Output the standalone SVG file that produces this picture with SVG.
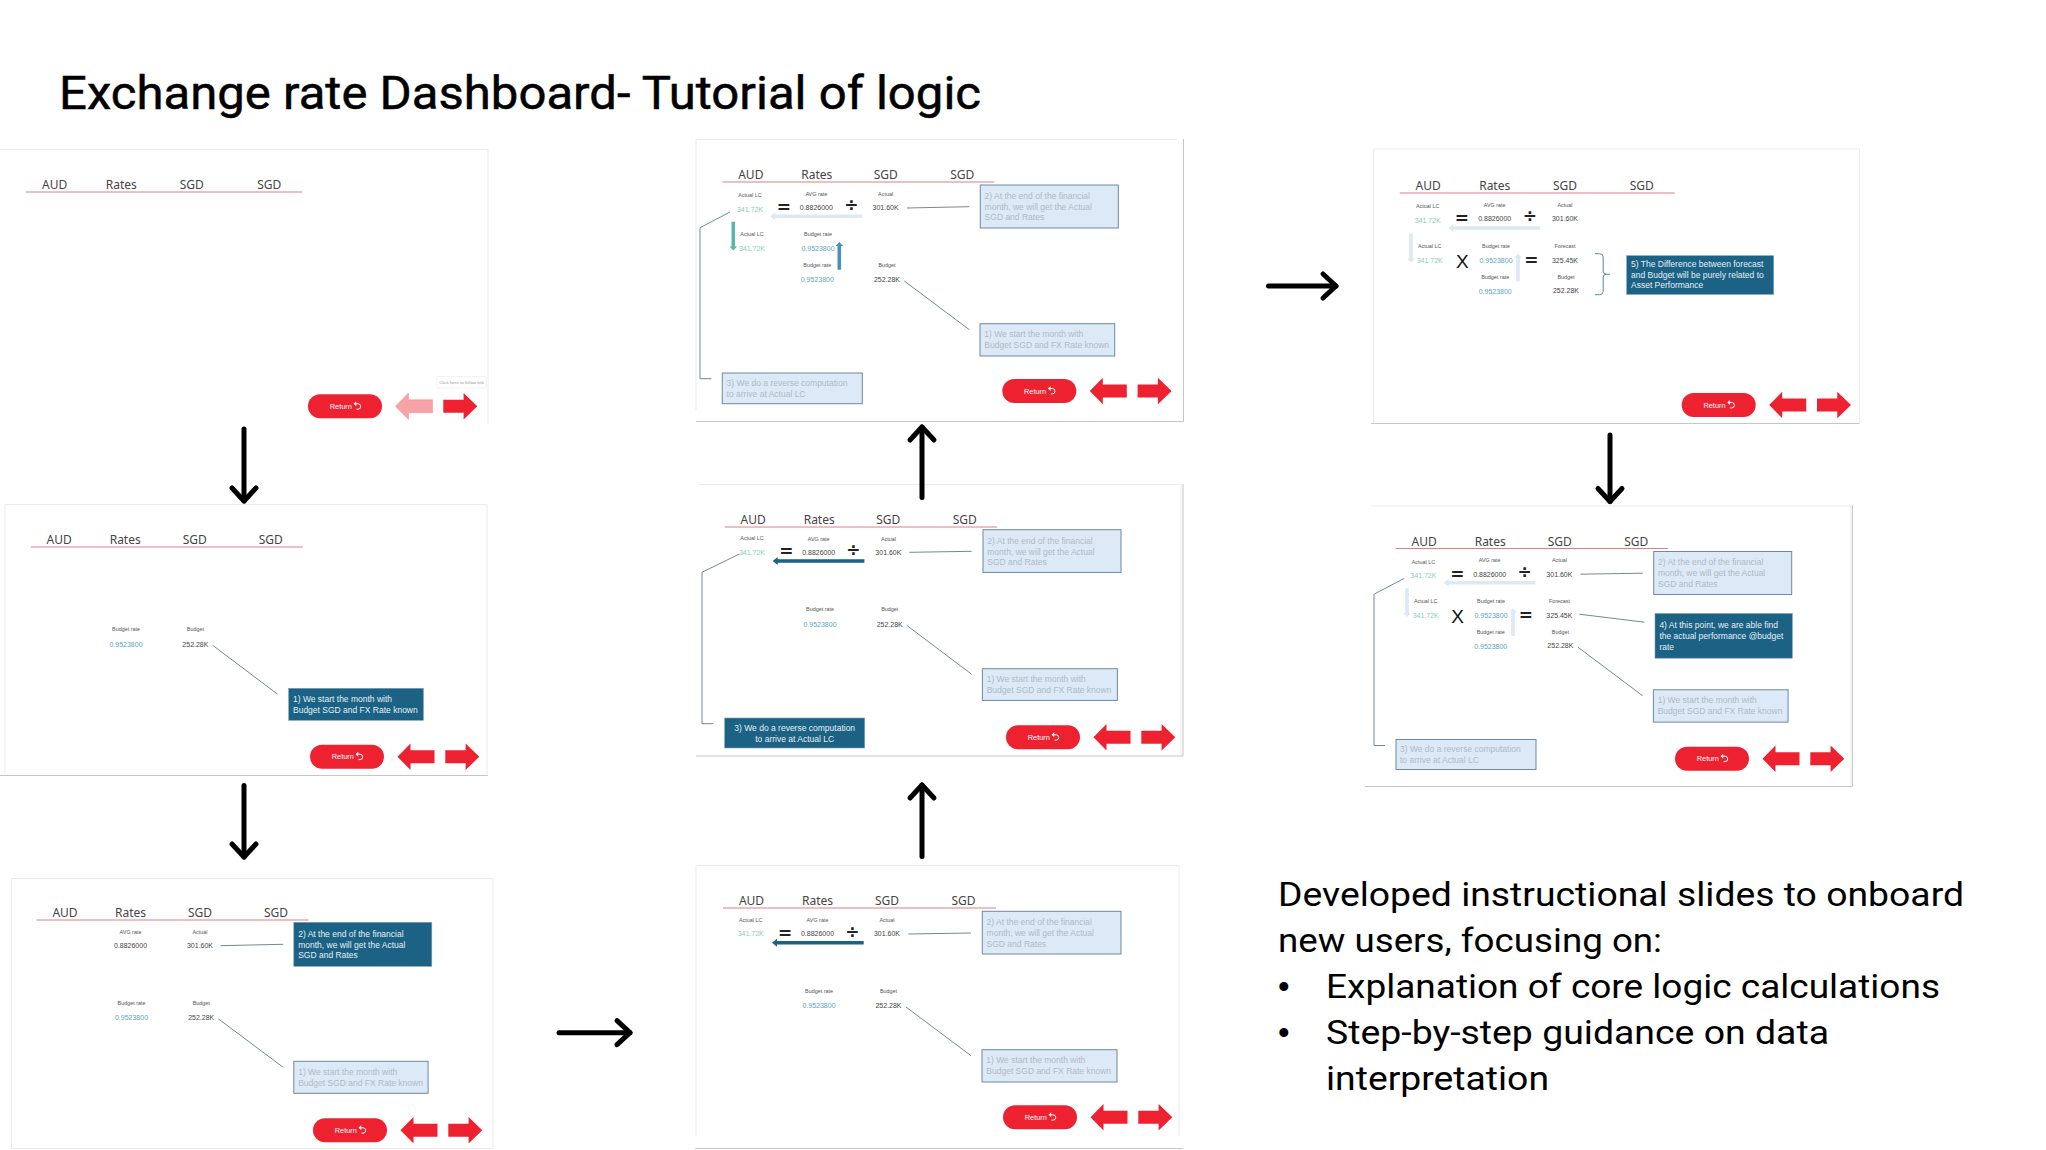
<svg xmlns="http://www.w3.org/2000/svg" width="2046" height="1150" viewBox="0 0 2046 1150">
<style>
text{font-family:"Liberation Sans",Arial,sans-serif}
.title{font-family:"Roboto","Liberation Sans",sans-serif;font-size:46px;fill:#000;stroke:#000;stroke-width:.5}
.body{font-family:"Roboto","Liberation Sans",sans-serif;font-size:33px;fill:#000}
.dot{font-size:33px;fill:#000}
.h{font-family:"Noto Sans","Liberation Sans",sans-serif;font-size:12px;fill:#444;text-anchor:middle}
.l{font-size:5.4px;fill:#555;text-anchor:middle}
.v{font-size:7px;fill:#444;text-anchor:middle}
.t{font-size:7px;fill:#86cdbb;text-anchor:middle}
.b{font-size:7px;fill:#5aa3c4;text-anchor:middle}
.op{font-family:"DejaVu Sans",sans-serif;font-weight:bold;font-size:17px;fill:#222;text-anchor:middle}
.x{font-size:19px;fill:#111;text-anchor:middle}
.rule{stroke:#dc7f86;stroke-width:1;fill:none}
.lead{stroke:#64798a;stroke-width:.9;fill:none}
.bd{fill:#1b6285;stroke:#7f9fb2;stroke-width:.6}
.bl{fill:#dce9f6;stroke:#71899e;stroke-width:1}
.td{font-size:8.5px;fill:#e6eff4}
.tl{font-size:8.5px;fill:#b0bac6}
.f1{stroke:#ebebeb;fill:none;stroke-width:1}
.f2{stroke:#c6c6c6;fill:none;stroke-width:1}
.red{fill:#ee2130}
.pale{fill:#f6a2a7;stroke:#e79198;stroke-width:.5}
.ret{font-size:7.4px;fill:#fff}
.dark{fill:#1b6285}
.lite{fill:#dce9f6}
.teal{fill:#5db6a2}
.blue{fill:#4a90bf}
.big{stroke:#000;stroke-width:5;stroke-linecap:round;fill:none;marker-end:url(#open)}
</style>
<defs>
<marker id="open" markerUnits="userSpaceOnUse" markerWidth="40" markerHeight="40" refX="0" refY="0" orient="auto" viewBox="-20 -20 40 40">
<path d="M-13,-12 L0,0 L-13,12" fill="none" stroke="#000" stroke-width="5" stroke-linecap="round" stroke-linejoin="round"/>
</marker>
<rect id="pill" x="0" y="-12" width="74" height="24" rx="12"/>
<polygon id="arrL" points="87.5,0 100.5,-13.3 100.5,-6.5 124.5,-6.5 124.5,6.5 100.5,6.5 100.5,13.3"/>
<polygon id="arrR" points="135.3,-6.5 155.6,-6.5 155.6,-13.3 169.3,0 155.6,13.3 155.6,6.5 135.3,6.5"/>
<g id="retIcon"><path d="M47.5,-2.5h2.5a2.6,2.6 0 0 1 0,5.4h-1.5" fill="none" stroke="#fff" stroke-width="1"/><polygon points="48.2,-5 45.6,-2.5 48.2,0" fill="#fff"/></g>
<path id="awL" d="M139.7,32.2H53V30L48,34L53,38V35.8H139.7Z"/>
<path id="awD" d="M9.2,39.7H12.8V64.5H14.8L11,68.5L7.2,64.5H9.2Z"/>
<path id="awU" d="M115.2,87.7V64H113.2L117,60L120.8,64H118.8V87.7Z"/>
<path id="brace" d="M195.3,60.7H200Q203.5,60.7 203.5,64V78Q203.5,81.2 206.5,81.2H210.3M206.5,81.2Q203.5,81.2 203.5,84.5V98.5Q203.5,101.7 200,101.7H195.3"/>
</defs>

<rect width="2046" height="1150" fill="#fff"/>

<g id="title"><text class="title" x="59" y="109" textLength="922" lengthAdjust="spacingAndGlyphs">Exchange rate Dashboard- Tutorial of logic</text></g>

<g id="summary">
<text class="body" x="1278" y="906" textLength="686" lengthAdjust="spacingAndGlyphs">Developed instructional slides to onboard</text>
<text class="body" x="1278" y="952" textLength="384" lengthAdjust="spacingAndGlyphs">new users, focusing on:</text>
<text class="dot" x="1278" y="998">•</text>
<text class="body" x="1326" y="998" textLength="614" lengthAdjust="spacingAndGlyphs">Explanation of core logic calculations</text>
<text class="dot" x="1278" y="1044">•</text>
<text class="body" x="1326" y="1044" textLength="503" lengthAdjust="spacingAndGlyphs">Step-by-step guidance on data</text>
<text class="body" x="1326" y="1090" textLength="223" lengthAdjust="spacingAndGlyphs">interpretation</text>
</g>

<g id="slide-1">
<path class="f1" d="M0,149.5H488V424"/>
<g transform="translate(26,192)">
<path class="rule" d="M0,0H276"/>
<text class="h" x="28.7" y="-3">AUD</text><text class="h" x="95.3" y="-3">Rates</text><text class="h" x="165.7" y="-3">SGD</text><text class="h" x="243.3" y="-3">SGD</text>
</g>
<g transform="translate(308,406.3)">
<use href="#pill" class="red"/><text class="ret" x="21.7" y="2.6">Return</text><use href="#retIcon"/>
<use href="#arrL" class="pale"/><use href="#arrR" class="red"/>
</g>
<g id="tooltip">
<rect x="436.7" y="376.5" width="49.5" height="11.5" rx="1" fill="#fff" stroke="#efefef" stroke-width=".8"/>
<polygon points="458.5,388 464.5,388 461.5,391" fill="#fff"/>
<text x="461.5" y="383.8" font-size="4.4" fill="#999" text-anchor="middle">Click here to follow link</text>
</g>
</g>

<g id="slide-2">
<path class="f1" d="M5,775V504.5H487V775"/><path class="f2" d="M0,775.5H488"/>
<g transform="translate(30.7,547)">
<path class="rule" d="M0,0H272"/>
<text class="h" x="28.5" y="-3">AUD</text><text class="h" x="94.5" y="-3">Rates</text><text class="h" x="164" y="-3">SGD</text><text class="h" x="240" y="-3">SGD</text>
<text class="l" x="95.3" y="84">Budget rate</text><text class="b" x="95.3" y="99.5">0.9523800</text>
<text class="l" x="164.7" y="84">Budget</text><text class="v" x="164.7" y="99.5">252.28K</text>
<path class="lead" d="M182,98.3L247,147.3"/>
<rect class="bd" x="258" y="141.3" width="134.7" height="32"/>
<text class="td" x="262.3" y="154.8">1) We start the month with</text><text class="td" x="262.3" y="165.7">Budget SGD and FX Rate known</text>
</g>
<g transform="translate(310,756.7)">
<use href="#pill" class="red"/><text class="ret" x="21.7" y="2.6">Return</text><use href="#retIcon"/>
<use href="#arrL" class="red"/><use href="#arrR" class="red"/>
</g>
</g>

<g id="slide-3">
<path class="f1" d="M11.5,1148V878.5H493V1148M11.5,1148.5H493"/>
<g transform="translate(36.5,920)">
<path class="rule" d="M0,0H272"/>
<text class="h" x="28.5" y="-3">AUD</text><text class="h" x="94" y="-3">Rates</text><text class="h" x="163.5" y="-3">SGD</text><text class="h" x="239.5" y="-3">SGD</text>
<text class="l" x="94" y="13.5">AVG rate</text><text class="v" x="94" y="28.2">0.8826000</text>
<text class="l" x="163.5" y="13.5">Actual</text><text class="v" x="163.5" y="28.2">301.60K</text>
<path class="lead" d="M184,25.7L246.7,24.3"/>
<text class="l" x="95" y="84.5">Budget rate</text><text class="b" x="95" y="99.5">0.9523800</text>
<text class="l" x="164.7" y="84.5">Budget</text><text class="v" x="164.7" y="99.5">252.28K</text>
<path class="lead" d="M181.7,98.7L246.7,147.3"/>
<rect class="bd" x="257.3" y="2.3" width="138" height="44"/>
<text class="td" x="261.7" y="16.6">2) At the end of the financial</text><text class="td" x="261.7" y="27.5">month, we will get the Actual</text><text class="td" x="261.7" y="38">SGD and Rates</text>
<rect class="bl" x="257.3" y="141.3" width="134.3" height="32"/>
<text class="tl" x="261.7" y="154.8">1) We start the month with</text><text class="tl" x="261.7" y="165.7">Budget SGD and FX Rate known</text>
</g>
<g transform="translate(313,1130.3)">
<use href="#pill" class="red"/><text class="ret" x="21.7" y="2.6">Return</text><use href="#retIcon"/>
<use href="#arrL" class="red"/><use href="#arrR" class="red"/>
</g>
</g>

<g id="slide-4">
<path class="f1" d="M696,1136V865.5H1179V1136"/><path class="f2" d="M695,1148.5H1183"/>
<g transform="translate(723,908)">
<path class="rule" d="M0,0H273"/>
<text class="h" x="28.5" y="-3">AUD</text><text class="h" x="94.5" y="-3">Rates</text><text class="h" x="164" y="-3">SGD</text><text class="h" x="240.5" y="-3">SGD</text>
<text class="l" x="27.7" y="13.5">Actual LC</text><text class="t" x="27.7" y="28">341.72K</text>
<text class="op" x="62" y="30.5">=</text>
<text class="l" x="94.5" y="13.5">AVG rate</text><text class="v" x="94.5" y="28.2">0.8826000</text>
<text class="op" x="129.3" y="29.5">÷</text>
<text class="l" x="164" y="13.5">Actual</text><text class="v" x="164" y="28.2">301.60K</text>
<use href="#awL" class="dark" transform="translate(1,.7)"/>
<path class="lead" d="M185.3,26L248,25"/>
<text class="l" x="96" y="85">Budget rate</text><text class="b" x="96" y="99.7">0.9523800</text>
<text class="l" x="165.5" y="85">Budget</text><text class="v" x="165.5" y="99.5">252.28K</text>
<path class="lead" d="M183,99L248,147.7"/>
<rect class="bl" x="259.3" y="3.3" width="138.7" height="42.7"/>
<text class="tl" x="263.6" y="17.2">2) At the end of the financial</text><text class="tl" x="263.6" y="28">month, we will get the Actual</text><text class="tl" x="263.6" y="38.8">SGD and Rates</text>
<rect class="bl" x="259" y="141.7" width="135" height="32.3"/>
<text class="tl" x="263.3" y="155">1) We start the month with</text><text class="tl" x="263.3" y="166">Budget SGD and FX Rate known</text>
</g>
<g transform="translate(1003,1117.3)">
<use href="#pill" class="red"/><text class="ret" x="21.7" y="2.6">Return</text><use href="#retIcon"/>
<use href="#arrL" class="red"/><use href="#arrR" class="red"/>
</g>
</g>

<g id="slide-5">
<path class="f1" d="M699,484.5H1181V755"/><path class="f2" d="M696,756H1183V484"/>
<g transform="translate(724.7,527)">
<path class="rule" d="M0,0H272.5"/>
<text class="h" x="28.5" y="-3">AUD</text><text class="h" x="94.5" y="-3">Rates</text><text class="h" x="163.5" y="-3">SGD</text><text class="h" x="240" y="-3">SGD</text>
<text class="l" x="27.3" y="13">Actual LC</text><text class="t" x="27.3" y="27.5">341.72K</text>
<text class="op" x="61.7" y="30">=</text>
<text class="l" x="94" y="13.5">AVG rate</text><text class="v" x="94" y="27.7">0.8826000</text>
<text class="op" x="128.7" y="28.5">÷</text>
<text class="l" x="163.7" y="13.5">Actual</text><text class="v" x="163.7" y="27.7">301.60K</text>
<use href="#awL" class="dark"/>
<path class="lead" d="M184.7,25.3L247,24.3"/>
<text class="l" x="95.3" y="84">Budget rate</text><text class="b" x="95.3" y="99.5">0.9523800</text>
<text class="l" x="165" y="84">Budget</text><text class="v" x="165" y="99.5">252.28K</text>
<path class="lead" d="M182,98.3L247,147.3"/>
<path class="lead" d="M14.7,27L-22.7,45.3V196.7H-11.3"/>
<rect class="bl" x="258.3" y="2.7" width="138" height="42.7"/>
<text class="tl" x="262.6" y="16.8">2) At the end of the financial</text><text class="tl" x="262.6" y="27.5">month, we will get the Actual</text><text class="tl" x="262.6" y="38.3">SGD and Rates</text>
<rect class="bl" x="257.7" y="141.7" width="135" height="31.7"/>
<text class="tl" x="262" y="154.8">1) We start the month with</text><text class="tl" x="262" y="165.7">Budget SGD and FX Rate known</text>
<rect class="bd" x="0" y="191" width="140" height="30"/>
<text class="td" x="70" y="203.8" text-anchor="middle">3) We do a reverse computation</text><text class="td" x="70" y="214.7" text-anchor="middle">to arrive at Actual LC</text>
</g>
<g transform="translate(1006,737.3)">
<use href="#pill" class="red"/><text class="ret" x="21.7" y="2.6">Return</text><use href="#retIcon"/>
<use href="#arrL" class="red"/><use href="#arrR" class="red"/>
</g>
</g>

<g id="slide-6">
<path class="f1" d="M696,410V139.5H1177"/><path class="f2" d="M696,421.5H1183.5V139"/>
<g transform="translate(722.3,182)">
<path class="rule" d="M0,0H272"/>
<text class="h" x="28.5" y="-3">AUD</text><text class="h" x="94.5" y="-3">Rates</text><text class="h" x="163.5" y="-3">SGD</text><text class="h" x="240" y="-3">SGD</text>
<text class="l" x="27.7" y="15">Actual LC</text><text class="t" x="27.7" y="29.7">341.72K</text>
<text class="op" x="61.7" y="31">=</text>
<text class="l" x="94" y="13.5">AVG rate</text><text class="v" x="94" y="28.2">0.8826000</text>
<text class="op" x="129" y="29.2">÷</text>
<text class="l" x="163.3" y="13.5">Actual</text><text class="v" x="163.3" y="28.2">301.60K</text>
<use href="#awL" class="lite" transform="translate(0,.3)"/>
<use href="#awD" class="teal"/>
<text class="l" x="29.7" y="54">Actual LC</text><text class="t" x="29.7" y="69">341.72K</text>
<text class="l" x="95.7" y="54">Budget rate</text><text class="b" x="95.7" y="69">0.9523800</text>
<use href="#awU" class="blue"/>
<text class="l" x="95" y="85">Budget rate</text><text class="b" x="95" y="99.7">0.9523800</text>
<text class="l" x="164.7" y="85">Budget</text><text class="v" x="164.7" y="99.5">252.28K</text>
<path class="lead" d="M184.7,26L247,24.7"/><path class="lead" d="M182,99L247,147.7"/>
<path class="lead" d="M7.7,30L-22.3,45.7V196.7H-11"/>
<rect class="bl" x="258" y="3" width="138" height="43"/>
<text class="tl" x="262.3" y="16.8">2) At the end of the financial</text><text class="tl" x="262.3" y="27.7">month, we will get the Actual</text><text class="tl" x="262.3" y="38.4">SGD and Rates</text>
<rect class="bl" x="257.7" y="141.7" width="134.7" height="32.3"/>
<text class="tl" x="262" y="155">1) We start the month with</text><text class="tl" x="262" y="166">Budget SGD and FX Rate known</text>
<rect class="bl" x="0" y="191" width="140" height="30.7"/>
<text class="tl" x="4.3" y="204.4">3) We do a reverse computation</text><text class="tl" x="4.3" y="215">to arrive at Actual LC</text>
</g>
<g transform="translate(1002.3,391)">
<use href="#pill" class="red"/><text class="ret" x="21.7" y="2.6">Return</text><use href="#retIcon"/>
<use href="#arrL" class="red"/><use href="#arrR" class="red"/>
</g>
</g>

<g id="slide-7">
<path class="f1" d="M1373.5,423V149H1859.5V423"/><path class="f2" d="M1371,423.5H1859.5"/>
<g transform="translate(1399.7,193)">
<path class="rule" d="M0,0H275"/>
<text class="h" x="28.5" y="-3">AUD</text><text class="h" x="95" y="-3">Rates</text><text class="h" x="165.3" y="-3">SGD</text><text class="h" x="242" y="-3">SGD</text>
<text class="l" x="28" y="15">Actual LC</text><text class="t" x="28" y="30">341.72K</text>
<text class="op" x="62.3" y="31">=</text>
<text class="l" x="95" y="13.5">AVG rate</text><text class="v" x="95" y="28.4">0.8826000</text>
<text class="op" x="130.3" y="29.2">÷</text>
<text class="l" x="165.3" y="13.5">Actual</text><text class="v" x="165.3" y="28.4">301.60K</text>
<use href="#awL" class="lite" transform="translate(.6,1)"/>
<use href="#awD" class="lite" transform="translate(.3,1)"/>
<text class="l" x="30" y="55">Actual LC</text><text class="t" x="30" y="69.5">341.72K</text>
<text class="x" x="62.7" y="75">X</text>
<text class="l" x="96.3" y="54.5">Budget rate</text><text class="b" x="96.3" y="69.5">0.9523800</text>
<use href="#awU" class="lite" transform="translate(1.3,.7)"/>
<text class="op" x="131.7" y="73">=</text>
<text class="l" x="165.3" y="54.5">Forecast</text><text class="v" x="165.3" y="69.5">325.45K</text>
<text class="l" x="95.5" y="86">Budget rate</text><text class="b" x="95.5" y="100.5">0.9523800</text>
<text class="l" x="166.3" y="86">Budget</text><text class="v" x="166.3" y="100">252.28K</text>
<use href="#brace" fill="none" stroke="#3f7c98" stroke-width=".9"/>
<rect class="bd" x="227" y="62.7" width="147" height="38.7"/>
<text class="td" x="231.3" y="73.7">5) The Difference between forecast</text><text class="td" x="231.3" y="84.6">and Budget will be purely related to</text><text class="td" x="231.3" y="95.4">Asset Performance</text>
</g>
<g transform="translate(1681.7,405)">
<use href="#pill" class="red"/><text class="ret" x="21.7" y="2.6">Return</text><use href="#retIcon"/>
<use href="#arrL" class="red"/><use href="#arrR" class="red"/>
</g>
</g>

<g id="slide-8">
<path class="f1" d="M1371,506H1851V786"/><path class="f2" d="M1365,786.5H1852.5V505"/>
<g transform="translate(1395.7,548.5)">
<path class="rule" d="M0,0H272"/>
<text class="h" x="28.5" y="-3">AUD</text><text class="h" x="94.5" y="-3">Rates</text><text class="h" x="164" y="-3">SGD</text><text class="h" x="240.5" y="-3">SGD</text>
<text class="l" x="27.7" y="15">Actual LC</text><text class="t" x="27.7" y="29.7">341.72K</text>
<text class="op" x="61.7" y="31">=</text>
<text class="l" x="94" y="13.5">AVG rate</text><text class="v" x="94" y="28.2">0.8826000</text>
<text class="op" x="129" y="29.2">÷</text>
<text class="l" x="163.7" y="13.5">Actual</text><text class="v" x="163.7" y="28.2">301.60K</text>
<use href="#awL" class="lite" transform="translate(0,.3)"/>
<use href="#awD" class="lite" transform="translate(.3,0)"/>
<text class="l" x="30" y="54.5">Actual LC</text><text class="t" x="30" y="69">341.72K</text>
<text class="x" x="62" y="74">X</text>
<text class="l" x="95.3" y="54">Budget rate</text><text class="b" x="95.3" y="69.5">0.9523800</text>
<use href="#awU" class="lite" transform="translate(.3,-.3)"/>
<text class="op" x="130.3" y="72">=</text>
<text class="l" x="163.7" y="54">Forecast</text><text class="v" x="163.7" y="69">325.45K</text>
<text class="l" x="95" y="85">Budget rate</text><text class="b" x="95" y="100">0.9523800</text>
<text class="l" x="164.7" y="85">Budget</text><text class="v" x="164.7" y="99.7">252.28K</text>
<path class="lead" d="M184.7,25.7L247,24.7"/><path class="lead" d="M183.7,65.7L248.7,73.7"/><path class="lead" d="M182.3,98.7L247,147.3"/>
<path class="lead" d="M8.3,30L-21.7,45.7V197H-10.7"/>
<rect class="bl" x="258" y="3" width="138" height="43"/>
<text class="tl" x="262.3" y="16.8">2) At the end of the financial</text><text class="tl" x="262.3" y="27.7">month, we will get the Actual</text><text class="tl" x="262.3" y="38.4">SGD and Rates</text>
<rect class="bd" x="259.3" y="65" width="137.3" height="44.7"/>
<text class="td" x="263.7" y="79.4">4) At this point,  we are able find</text><text class="td" x="263.7" y="90.4">the actual performance @budget</text><text class="td" x="263.7" y="101">rate</text>
<rect class="bl" x="257.7" y="141.3" width="134.7" height="32.3"/>
<text class="tl" x="262" y="154.8">1) We start the month with</text><text class="tl" x="262" y="165.8">Budget SGD and FX Rate known</text>
<rect class="bl" x="0.3" y="191" width="140" height="30"/>
<text class="tl" x="4.3" y="203.8">3) We do a reverse computation</text><text class="tl" x="4.3" y="214.7">to arrive at Actual LC</text>
</g>
<g transform="translate(1675,758.7)">
<use href="#pill" class="red"/><text class="ret" x="21.7" y="2.6">Return</text><use href="#retIcon"/>
<use href="#arrL" class="red"/><use href="#arrR" class="red"/>
</g>
</g>

<g id="connectors">
<path class="big" d="M244,429V501"/>
<path class="big" d="M244,785.5V857"/>
<path class="big" d="M559,1032.7H630"/>
<path class="big" d="M922,856.5V785"/>
<path class="big" d="M922,497.5V427"/>
<path class="big" d="M1268.5,286H1336"/>
<path class="big" d="M1610,435V501.5"/>
</g>
</svg>
